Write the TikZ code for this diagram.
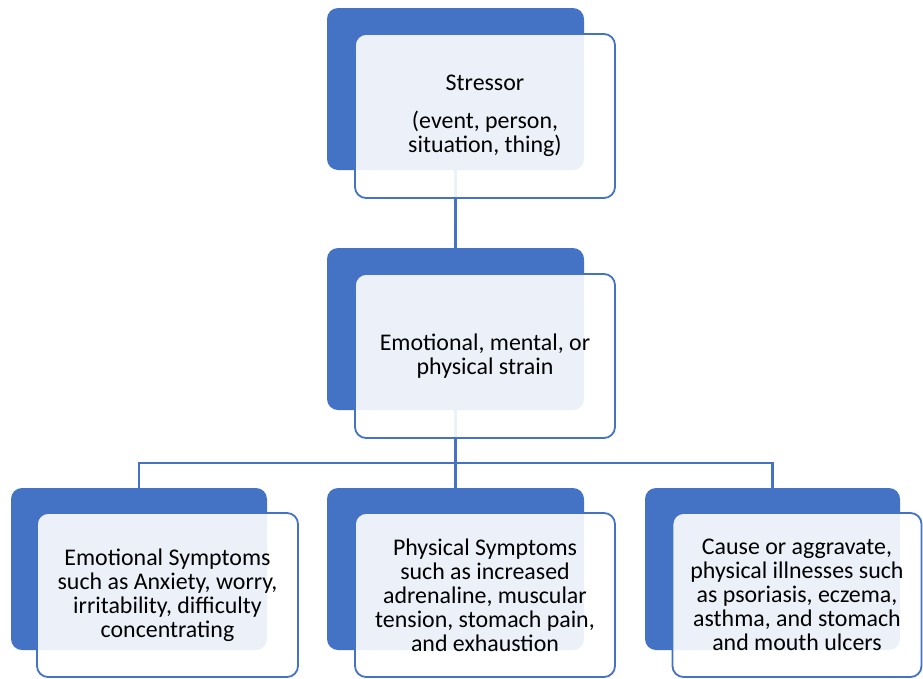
\documentclass[tikz,border=0pt]{standalone}
\usepackage{fontspec}
\setmainfont{Carlito}
\definecolor{accent}{HTML}{4472C4}
\begin{document}
\begin{tikzpicture}[x=1pt,y=-1pt,
  backbox/.style={draw=none,fill=accent,rounded corners=11pt,minimum width=257pt,minimum height=162pt,inner sep=0pt,outer sep=0pt},
  frontbox/.style={draw=accent,line width=1.8pt,fill=white,fill opacity=0.9,text opacity=1,rounded corners=11pt,minimum width=260pt,minimum height=164pt,inner sep=0pt,outer sep=0pt,align=center,font=\fontsize{23.9}{24}\selectfont},
  link/.style={draw=accent,line width=2.2pt}]
\useasboundingbox (0,0) rectangle (923,678);
\fill[white] (0,0) rectangle (923,678);
% back boxes
\node[backbox] (tb) at (455.5,89) {};
\node[backbox] (mb) at (455.5,329) {};
\node[backbox,minimum width=256pt] (lb) at (139,569) {};
\node[backbox] (cb) at (455.5,569) {};
\node[backbox,minimum width=255pt] (rb) at (772.5,569) {};
% connectors
\coordinate (hub) at (455.5,463);
\draw[link] (tb.south) -- (mb.north);
\draw[link] (mb.south) -- (hub) -- (cb.north);
\draw[link] (lb.north) |- (hub) -| (rb.north);
% front boxes
\node[frontbox] (tf) at (485,116) {Stressor\\[14pt](event, person,\\situation, thing)};
\node[frontbox] (mf) at (485,356) {Emotional, mental, or\\physical strain};
\node[frontbox,minimum width=261pt] (lf) at (167.5,595) {Emotional Symptoms\\such as Anxiety, worry,\\irritability, difficulty\\concentrating};
\node[frontbox] (cf) at (485,595) {Physical Symptoms\\such as increased\\adrenaline, muscular\\tension, stomach pain,\\and exhaustion};
\node[frontbox,minimum width=249pt] (rf) at (797,595) {Cause or aggravate,\\physical illnesses such\\as psoriasis, eczema,\\asthma, and stomach\\and mouth ulcers};
\end{tikzpicture}
\end{document}
